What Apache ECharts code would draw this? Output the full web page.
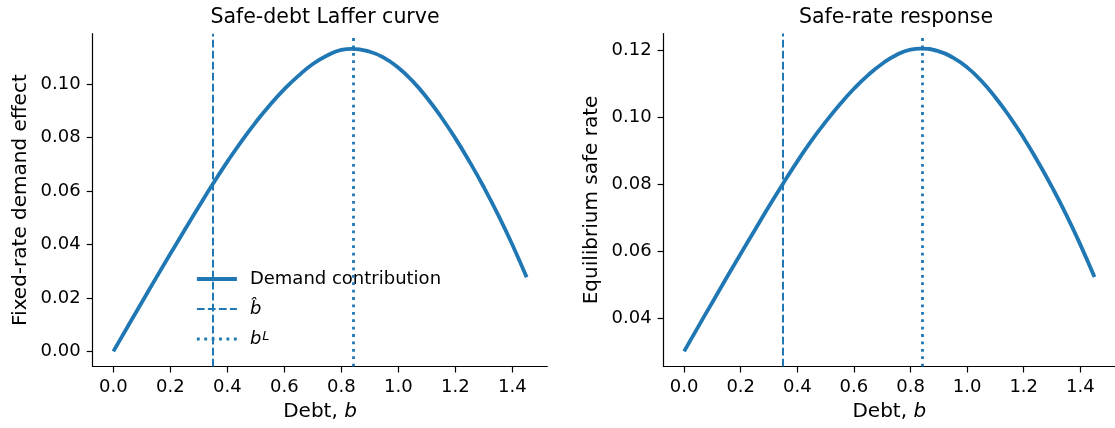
<!DOCTYPE html>
<html>
<head>
<meta charset="utf-8">
<script src="https://cdn.jsdelivr.net/npm/echarts@6/dist/echarts.min.js"></script>
<style>
html,body{margin:0;padding:0;background:#fff;}
#c{width:1115px;height:428px;}
</style>
</head>
<body>
<div id="c"></div>
<script>
// ---- data ----
const debt = [0, 0.05, 0.1, 0.15, 0.2, 0.25, 0.3, 0.35, 0.4, 0.45, 0.5, 0.55, 0.6, 0.65, 0.7, 0.75, 0.8, 0.836, 0.9, 0.95, 1.0, 1.05, 1.1, 1.15, 1.2, 1.25, 1.3, 1.35, 1.4, 1.45];
const demandContribution = [0, 0.0092, 0.0184, 0.0275, 0.0365, 0.0454, 0.0542, 0.0628, 0.0710, 0.0787, 0.0858, 0.0923, 0.0981, 0.1032, 0.1075, 0.1107, 0.1128, 0.1132, 0.1121, 0.1098, 0.1061, 0.1011, 0.0949, 0.0877, 0.0797, 0.0709, 0.0614, 0.0511, 0.0399, 0.0277];
const safeRate = [0.0300, 0.0374, 0.0447, 0.0520, 0.0592, 0.0663, 0.0734, 0.0802, 0.0868, 0.0930, 0.0986, 0.1038, 0.1085, 0.1126, 0.1160, 0.1186, 0.1202, 0.1205, 0.1197, 0.1178, 0.1149, 0.1109, 0.1059, 0.1002, 0.0938, 0.0867, 0.0791, 0.0709, 0.0619, 0.0522];
const bHat = 0.35;
const bLaffer = 0.836;
const xTicks = [0, 0.2, 0.4, 0.6, 0.8, 1.0, 1.2, 1.4];
const yTicksLeft = [0, 0.02, 0.04, 0.06, 0.08, 0.10];
const yTicksRight = [0.04, 0.06, 0.08, 0.10, 0.12];
const titles = ['Safe-debt Laffer curve', 'Safe-rate response'];
const yNames = ['Fixed-rate demand effect', 'Equilibrium safe rate'];
const legendNames = ['Demand contribution', 'bhat', 'bL'];

// ---- styling ----
const FONT = 'DejaVu Sans';
const BLUE = '#1f77b4';
const TICK_FS = 18, LABEL_FS = 20, TITLE_FS = 20.5;
const DASH = [7.7, 3.3], DOT = [2.8, 4.6];
const CURVE_W = 3.8;

const chart = echarts.init(document.getElementById('c'), null, {renderer: 'canvas'});

function xAxis(gi) {
  return {
    type: 'value', gridIndex: gi, min: -0.0725, max: 1.5225,
    name: 'Debt, {i|b}', nameLocation: 'middle', nameGap: 32,
    nameTextStyle: {fontFamily: FONT, fontSize: LABEL_FS, color: '#000',
      rich: {i: {fontFamily: FONT, fontSize: LABEL_FS, fontStyle: 'italic', color: '#000'}}},
    splitLine: {show: false},
    axisLine: {show: true, onZero: false, lineStyle: {color: '#000', width: 1.2}},
    axisTick: {show: true, length: 6, lineStyle: {color: '#000', width: 1.2}, customValues: xTicks},
    axisLabel: {show: true, margin: 12, fontFamily: FONT, fontSize: TICK_FS, color: '#000',
      customValues: xTicks, formatter: v => v.toFixed(1)}
  };
}
function yAxis(gi, ticks, min, max) {
  return {
    type: 'value', gridIndex: gi, min: min, max: max,
    name: yNames[gi], nameLocation: 'middle', nameGap: 62,
    nameTextStyle: {fontFamily: FONT, fontSize: LABEL_FS, color: '#000'},
    splitLine: {show: false},
    axisLine: {show: true, onZero: false, lineStyle: {color: '#000', width: 1.2}},
    axisTick: {show: true, length: 6, lineStyle: {color: '#000', width: 1.2}, customValues: ticks},
    axisLabel: {show: true, margin: 12, fontFamily: FONT, fontSize: TICK_FS, color: '#000',
      customValues: ticks, formatter: v => v.toFixed(2)}
  };
}
function vline(name, gi, x, dash, width) {
  return {
    type: 'line', name: name, xAxisIndex: gi, yAxisIndex: gi, data: [],
    symbol: 'none', color: BLUE,
    lineStyle: {color: BLUE, width: width, type: dash},
    markLine: {silent: true, symbol: ['none', 'none'], animation: false,
      label: {show: false},
      lineStyle: {color: BLUE, width: width, type: dash},
      data: [{xAxis: x}]}
  };
}
function curve(name, gi, ys) {
  return {
    type: 'line', name: name, xAxisIndex: gi, yAxisIndex: gi,
    data: debt.map((d, i) => [d, ys[i]]),
    symbol: 'none', showSymbol: false, smooth: 0.5, color: BLUE,
    lineStyle: {color: BLUE, width: CURVE_W}, z: 3
  };
}

const noSymbol = {opacity: 0, color: 'rgba(0,0,0,0)', borderWidth: 0};
const option = {
  animation: false,
  backgroundColor: '#fff',
  title: [
    {text: titles[0], left: 320, top: 2, textAlign: 'center',
     textStyle: {fontFamily: FONT, fontSize: TITLE_FS, fontWeight: 'normal', color: '#000'}},
    {text: titles[1], left: 891, top: 2, textAlign: 'center',
     textStyle: {fontFamily: FONT, fontSize: TITLE_FS, fontWeight: 'normal', color: '#000'}}
  ],
  grid: [
    {left: 92.7, right: 567.7, top: 33.7, bottom: 61.5},
    {left: 663.6, right: -3.2, top: 33.5, bottom: 61.5}
  ],
  xAxis: [xAxis(0), xAxis(1)],
  yAxis: [
    yAxis(0, yTicksLeft, -0.00566, 0.11886),
    yAxis(1, yTicksRight, 0.025475, 0.125025)
  ],
  legend: {
    data: [
      {name: legendNames[0], itemStyle: noSymbol, lineStyle: {width: CURVE_W, type: 'solid', color: BLUE}},
      {name: legendNames[1], itemStyle: noSymbol, lineStyle: {width: 2, type: DASH, color: BLUE}},
      {name: legendNames[2], itemStyle: noSymbol, lineStyle: {width: 2.8, type: DOT, color: BLUE}}
    ],
    orient: 'vertical', left: 190, top: 265,
    itemWidth: 40, itemHeight: 18, itemGap: 12,
    selectedMode: false,
    textStyle: {fontFamily: FONT, fontSize: 18, color: '#000', lineHeight: 18, padding: [0, 0, 0, 8],
      rich: {
        i: {fontFamily: FONT, fontSize: 18, fontStyle: 'italic', color: '#000', lineHeight: 18},
        sup: {fontFamily: FONT, fontSize: 13, fontStyle: 'italic', color: '#000', lineHeight: 8, verticalAlign: 'top', padding: [0, 0, 0, 1]}
      }},
    formatter: function (n) {
      if (n === 'bhat') return '{i|b\u0302}';
      if (n === 'bL') return '{i|b}{sup|L}';
      return n;
    }
  },
  series: [
    curve('Demand contribution', 0, demandContribution),
    vline('bhat', 0, bHat, DASH, 2),
    vline('bL', 0, bLaffer, DOT, 2.8),
    curve('Safe rate', 1, safeRate),
    vline('bhat-r', 1, bHat, DASH, 2),
    vline('bL-r', 1, bLaffer, DOT, 2.8)
  ]
};
chart.setOption(option);
</script>
</body>
</html>
